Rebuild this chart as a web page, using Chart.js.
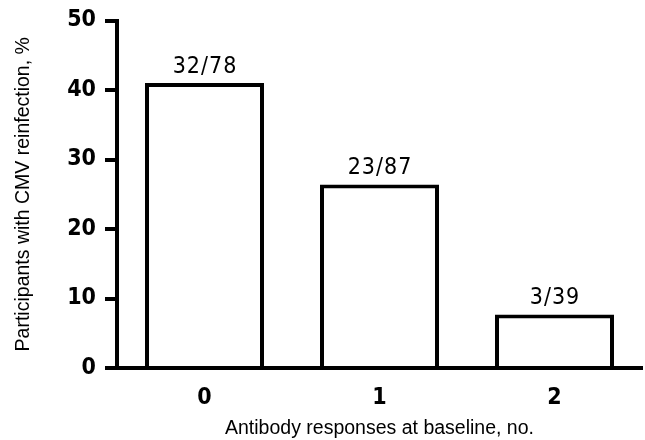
<!DOCTYPE html>
<html>
<head>
<meta charset="utf-8">
<script src="https://cdn.jsdelivr.net/npm/chart.js@4/dist/chart.umd.min.js"></script>
<style>
  html, body { margin: 0; padding: 0; background: #fff; }
  #wrap { width: 645px; height: 440px; }
</style>
</head>
<body>
<div id="wrap"><canvas id="barChart" width="645" height="440"></canvas></div>
<script>
// data
var categories = ['0', '1', '2']
var reinfectionPct = [41.0, 26.4, 7.7]
var countLabels = ['32/78', '23/87', '3/39']

var narrow = '"Liberation Sans Narrow", "DejaVu Sans Condensed", "Liberation Sans", sans-serif'
var plain = '"Liberation Sans", Arial, sans-serif'

// count labels above each bar
var countPlugin = {
  id: 'countLabels',
  afterDatasetsDraw(chart) {
    var ctx = chart.ctx
    var meta = chart.getDatasetMeta(0)
    ctx.save()
    ctx.fillStyle = '#000'
    ctx.font = '23px ' + narrow
    ctx.textAlign = 'center'
    ctx.textBaseline = 'bottom'
    if ('letterSpacing' in ctx) ctx.letterSpacing = '1px'
    meta.data.forEach((bar, i) => {
      ctx.fillText(countLabels[i], bar.x + 0.5, bar.y - 5)
    })
    ctx.restore()
  }
}

var chart = new Chart('barChart', {
  type: 'bar',
  data: {
    labels: categories,
    datasets: [{
      data: reinfectionPct,
      backgroundColor: '#fff',
      borderColor: '#000',
      borderWidth: 4,
      borderSkipped: 'start',
      categoryPercentage: 1.0,
      barPercentage: 0.68
    }]
  },
  plugins: [countPlugin],
  options: {
    responsive: false,
    animation: false,
    layout: { padding: { top: 19, right: 3, left: 0, bottom: 0 } },
    plugins: {
      legend: { display: false },
      tooltip: { enabled: false }
    },
    scales: {
      x: {
        afterFit: (s) => { s.height = 72 },
        grid: { drawOnChartArea: false, drawTicks: false },
        border: { display: true, color: '#000', width: 4 },
        ticks: {
          color: '#000',
          padding: 16,
          font: { family: narrow, size: 23, weight: 'bold' }
        },
        title: {
          display: true,
          text: 'Antibody responses at baseline, no.',
          color: '#000',
          padding: { top: 0, bottom: 0 },
          font: { family: plain, size: 19.5 }
        }
      },
      y: {
        min: 0,
        max: 50,
        afterFit: (s) => { s.width = 117 },
        grid: {
          drawOnChartArea: false,
          drawTicks: true,
          tickLength: 12,
          lineWidth: 4,
          color: '#000'
        },
        border: { display: true, color: '#000', width: 4 },
        ticks: {
          stepSize: 10,
          color: '#000',
          padding: 9,
          font: { family: narrow, size: 23, weight: 'bold', lineHeight: 1 }
        },
        title: {
          display: true,
          text: 'Participants with CMV reinfection, %',
          color: '#000',
          padding: { top: 12, bottom: 0 },
          font: { family: plain, size: 19.5 }
        }
      }
    }
  }
})
</script>
</body>
</html>
